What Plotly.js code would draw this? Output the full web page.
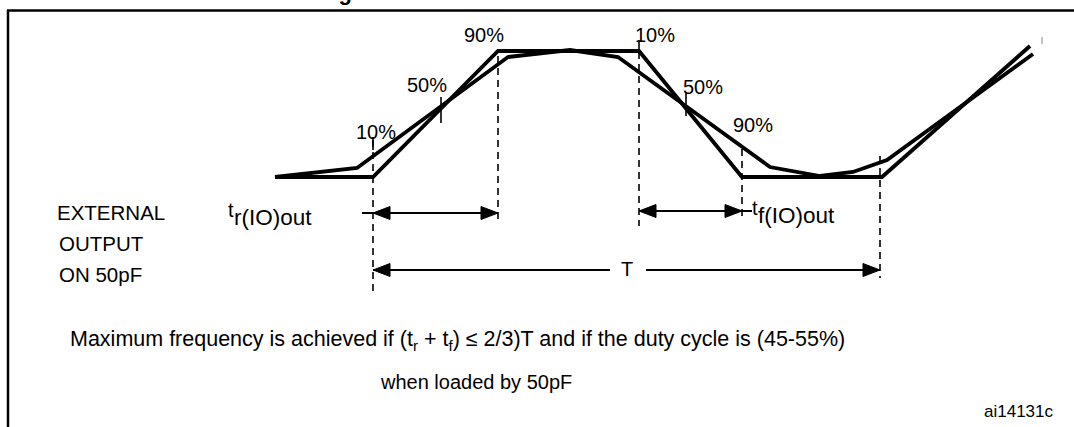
<!DOCTYPE html>
<html><head><meta charset="utf-8">
<script src="https://cdn.plot.ly/plotly-3.0.1.min.js"></script>
<style>html,body{margin:0;padding:0;background:#fff;}#chart{width:1074px;height:427px;}</style>
</head><body><div id="chart"></div>
<script>
// ---- Waveform data (time units on x, level units on y) ----
const sharpTime   = [275, 373, 498, 639, 742, 882, 1030];
const sharpLevel  = [177, 177, 51, 51, 177, 177, 46];
const smoothTime  = [275, 357, 508, 570, 618, 770, 820, 853, 887, 1033];
const smoothLevel = [177, 168, 57, 50, 57, 167, 176, 172, 160, 54];

// ---- Dashed timing guides ----
const guideTime = [373, 498, 639, 742, 880];
const guideFrom = [140, 56, 52, 149, 156];
const guideTo   = [293, 222, 226, 217, 278];

// ---- Solid level crossing ticks ----
const tickTime = [373, 441, 639, 686];
const tickFrom = [137, 97, 40, 92];
const tickTo   = [150, 123, 52, 116];

// ---- Timing spans (arrows) ----
const spanNames = ['tr', 'tf', 'T'];
const spanStart = [373, 639, 373];
const spanEnd   = [498, 742, 880];
const spanLevel = [213, 211, 270];

// ---- Level labels ----
const levelLabels = ['90%', '10%', '50%', '10%', '50%', '90%'];

const FONT = 'Liberation Sans, Arial, Helvetica, sans-serif';

function segs(xs, y0, y1) {
  const x = [], y = [];
  xs.forEach((v, i) => { x.push(v, v, null); y.push(y0[i], y1[i], null); });
  return {x, y};
}
const g = segs(guideTime, guideFrom, guideTo);
const t = segs(tickTime, tickFrom, tickTo);

const traces = [
  {x: g.x, y: g.y, mode: 'lines', line: {color: '#000', width: 1.6, dash: '7px,5px'}, hoverinfo: 'skip'},
  {x: t.x, y: t.y, mode: 'lines', line: {color: '#000', width: 1.6}, hoverinfo: 'skip'},
  {x: sharpTime, y: sharpLevel, mode: 'lines', line: {color: '#000', width: 3.8}, hoverinfo: 'skip'},
  {x: smoothTime, y: smoothLevel, mode: 'lines', line: {color: '#000', width: 3.8}, hoverinfo: 'skip'},
  {x: [1042, 1042], y: [37, 44], mode: 'lines', line: {color: '#888', width: 1}, hoverinfo: 'skip'}
];

const shapes = [];
const AL = 17, AH = 6.5;
function hline(x0, x1, y) {
  shapes.push({type: 'line', xref: 'x', yref: 'y', x0, x1, y0: y, y1: y, line: {color: '#000', width: 2}});
}
function head(tip, y, dir) {
  const b = tip - dir * AL;
  shapes.push({type: 'path', xref: 'x', yref: 'y',
    path: `M${tip},${y} L${b},${y - AH} L${b},${y + AH} Z`,
    fillcolor: '#000', line: {color: '#000', width: 1}});
}
spanNames.forEach((n, i) => {
  const a = spanStart[i], b = spanEnd[i], y = spanLevel[i];
  if (n === 'T') { hline(a, 610, y); hline(646, b, y); }
  else if (n === 'tr') { hline(a - 11, b, y); }
  else { hline(a, b + 10, y); }
  head(a, y, -1); head(b, y, 1);
});
// frame
shapes.push({type: 'line', xref: 'x', yref: 'y', x0: 7, x1: 1074, y0: 10.5, y1: 10.5, line: {color: '#000', width: 2.5}});
shapes.push({type: 'line', xref: 'x', yref: 'y', x0: 8, x1: 8, y0: 10, y1: 427, line: {color: '#000', width: 2.5}});

function ann(text, x, y, size, xanchor, extra) {
  return Object.assign({text, x, y, xref: 'x', yref: 'y', showarrow: false, xanchor: xanchor || 'center', yanchor: 'middle',
    font: {family: FONT, size: size, color: '#000'}}, extra || {});
}
const labelPos = [[484, 35], [655, 35], [427, 85], [376, 132], [703, 87], [753, 125]];
const annotations = levelLabels.map((s, i) => ann(s, labelPos[i][0], labelPos[i][1], 20));
annotations.push(
  ann('EXTERNAL', 55, 212, 20.5, 'left'),
  ann('OUTPUT', 57, 243, 20.5, 'left'),
  ann('ON 50pF', 57, 274, 20.5, 'left'),
  ann('t', 226, 210, 20, 'left'),
  ann('r(IO)out', 232, 217, 22.5, 'left'),
  ann('t', 750, 208, 20, 'left'),
  ann('f(IO)out', 756, 215, 22.5, 'left'),
  ann('T', 627, 269, 20),
  ann('Maximum frequency is achieved if (t<sub>r</sub> + t<sub>f</sub>) ≤ 2/3)T and if the duty cycle is (45-55%)', 457, 340, 21.5),
  ann('when loaded by 50pF', 476, 382, 20),
  ann('ai14131c', 1056, 411, 17, 'right'),
  Object.assign(ann('<b>Figure 29. I/O AC characteristics definition</b>', 540, 6.8, 22), {yanchor: 'bottom'})
);

const layout = {
  width: 1074, height: 427,
  margin: {l: 0, r: 0, t: 0, b: 0, pad: 0},
  paper_bgcolor: '#fff', plot_bgcolor: '#fff',
  showlegend: false,
  xaxis: {range: [0, 1074], visible: false, fixedrange: true},
  yaxis: {range: [427, 0], visible: false, fixedrange: true},
  shapes, annotations
};
Plotly.newPlot('chart', traces, layout, {staticPlot: true, displayModeBar: false});
</script></body></html>
